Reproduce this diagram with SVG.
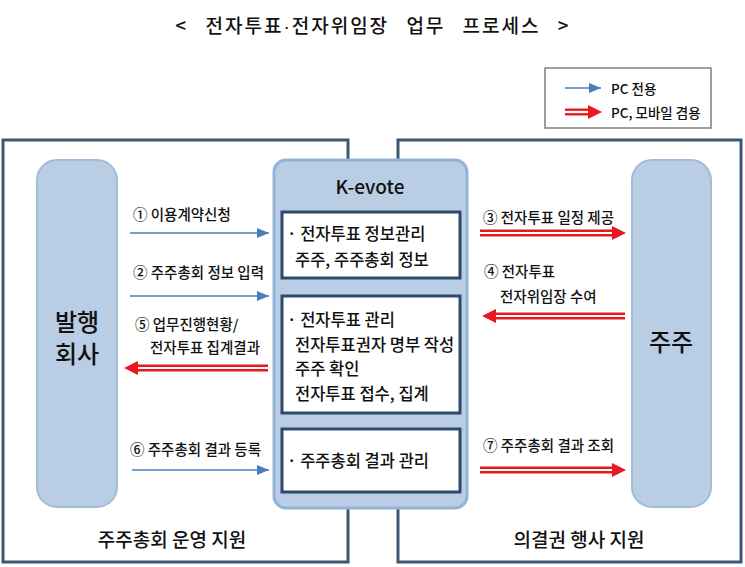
<svg xmlns="http://www.w3.org/2000/svg" width="745" height="567" viewBox="0 0 745 567">
<defs>
<style>
.t{font-family:"Noto Sans CJK KR","Noto Sans",sans-serif;fill:#111;font-weight:500}
.lbl{font-size:14.5px}
.bx{font-size:16.5px}
.frame{fill:none;stroke:#3d5875;stroke-width:3}
.actor{fill:#b9cde5;stroke:#a3bbd8;stroke-width:2}
.inner{fill:#fff;stroke:#2e4a6b;stroke-width:3}
.blue{stroke:#4a7ebb;stroke-width:1.6;fill:none}
.rd{stroke:#e8181f;stroke-width:7;fill:none}
.wh{stroke:#fff;stroke-width:2.2;fill:none}
</style>
<marker id="bh" markerUnits="userSpaceOnUse" markerWidth="12" markerHeight="10" refX="12" refY="5" orient="auto">
<path d="M0,0 L12,5 L0,10 Z" fill="#4a7ebb"/>
</marker>
</defs>
<rect width="745" height="567" fill="#fff"/>
<text class="t" x="373" y="33" text-anchor="middle" font-size="19" font-weight="bold" letter-spacing="2" word-spacing="11">&lt; 전자투표<tspan font-family="Liberation Sans, sans-serif">·</tspan>전자위임장 업무 프로세스 &gt;</text>

<g id="legend">
<rect x="545" y="68" width="166" height="60" fill="#fff" stroke="#7f7f7f" stroke-width="1.5"/>
<line x1="565" y1="88" x2="601" y2="88" class="blue" marker-end="url(#bh)"/>
<text class="t" x="611" y="94" font-size="13.5">PC 전용</text>
<path d="M565,112 H589" class="rd"/><path d="M565,112 H590" class="wh"/><path d="M588,105 L602,112 L588,119 Z" fill="#e8181f"/>
<text class="t" x="611" y="118" font-size="13.5">PC, 모바일 겸용</text>
</g>

<g id="frame-left">
<rect x="3" y="140" width="345" height="422" class="frame"/>
<text class="t" x="172" y="547" text-anchor="middle" font-size="19">주주총회 운영 지원</text>
</g>
<g id="frame-right">
<rect x="398" y="140" width="343" height="422" class="frame"/>
<text class="t" x="579" y="547" text-anchor="middle" font-size="19">의결권 행사 지원</text>
</g>

<g id="issuer">
<rect x="37" y="160" width="80" height="347" rx="20" class="actor"/>
<text class="t" x="77" y="331" text-anchor="middle" font-size="24" font-weight="bold">발행</text>
<text class="t" x="77" y="363" text-anchor="middle" font-size="24" font-weight="bold">회사</text>
</g>

<g id="shareholder">
<rect x="632" y="160" width="79" height="347" rx="20" class="actor"/>
<text class="t" x="671" y="351" text-anchor="middle" font-size="24" font-weight="bold">주주</text>
</g>

<g id="kevote">
<rect x="274" y="160" width="193" height="348" rx="12" fill="#b9cde5" stroke="#94b2d6" stroke-width="3"/>
<text class="t" x="370" y="194" text-anchor="middle" font-size="19" font-weight="bold">K-evote</text>
</g>
<g id="box-info">
<rect x="282" y="212" width="178" height="66" class="inner"/>
<text class="t bx" x="287" y="240">· 전자투표 정보관리</text>
<text class="t bx" x="295" y="266">주주, 주주총회 정보</text>
</g>
<g id="box-vote">
<rect x="282" y="296" width="178" height="117" class="inner"/>
<text class="t bx" x="287" y="326">· 전자투표 관리</text>
<text class="t bx" x="295" y="351">전자투표권자 명부 작성</text>
<text class="t bx" x="295" y="375">주주 확인</text>
<text class="t bx" x="295" y="400">전자투표 접수, 집계</text>
</g>
<g id="box-result">
<rect x="282" y="429" width="178" height="63" class="inner"/>
<text class="t bx" x="287" y="467">· 주주총회 결과 관리</text>
</g>

<g id="connectors">
<line x1="130" y1="233" x2="269" y2="233" class="blue" marker-end="url(#bh)"/>
<text class="t lbl" x="133" y="220">① 이용계약신청</text>
<line x1="130" y1="296" x2="269" y2="296" class="blue" marker-end="url(#bh)"/>
<text class="t lbl" x="133" y="278">② 주주총회 정보 입력</text>
<path d="M137,368 H268" class="rd"/><path d="M136,368 H268" class="wh"/><path d="M138,361 L124,368 L138,375 Z" fill="#e8181f"/>
<text class="t lbl" x="135" y="330">⑤ 업무진행현황/</text>
<text class="t lbl" x="150" y="353">전자투표 집계결과</text>
<line x1="132" y1="470" x2="269" y2="470" class="blue" marker-end="url(#bh)"/>
<text class="t lbl" x="130" y="455">⑥ 주주총회 결과 등록</text>

<path d="M480,233 H613" class="rd"/><path d="M480,233 H614" class="wh"/><path d="M612,226 L626,233 L612,240 Z" fill="#e8181f"/>
<text class="t lbl" x="483" y="223">③ 전자투표 일정 제공</text>
<path d="M495,316 H625" class="rd"/><path d="M494,316 H625" class="wh"/><path d="M496,309 L482,316 L496,323 Z" fill="#e8181f"/>
<text class="t lbl" x="484" y="277">④ 전자투표</text>
<text class="t lbl" x="500" y="302">전자위임장 수여</text>
<path d="M480,470 H613" class="rd"/><path d="M480,470 H614" class="wh"/><path d="M612,463 L626,470 L612,477 Z" fill="#e8181f"/>
<text class="t lbl" x="483" y="451">⑦ 주주총회 결과 조회</text>
</g>
</svg>
